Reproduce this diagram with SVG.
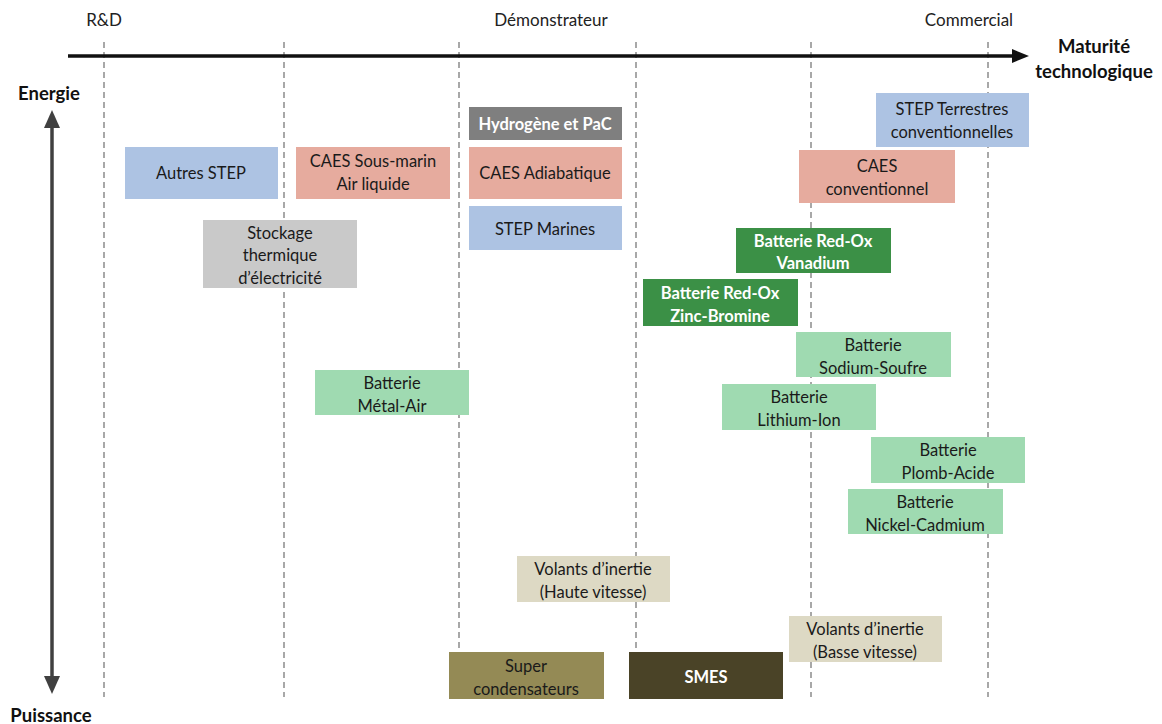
<svg xmlns="http://www.w3.org/2000/svg" width="1162" height="724" viewBox="0 0 1162 724">
<defs>
<style>
text{font-family:Lato,"Open Sans","Liberation Sans",sans-serif;font-size:16.5px;fill:#1a1a1a;text-anchor:middle}
.w{fill:#ffffff;font-weight:bold}
.ax{font-size:18.5px;font-weight:bold;fill:#111}
.ph{font-size:17px;fill:#222}
.dash{stroke:#8c8c8c;stroke-width:1.5;stroke-dasharray:6,4;fill:none}
.blue{fill:#adc3e3}
.sal{fill:#e6ab9e}
.grey{fill:#7f7f7f}
.lgrey{fill:#c9c9c9}
.dg{fill:#3b9046}
.lg{fill:#9fdab1}
.beige{fill:#ddd9c4}
.olive{fill:#948a55}
.dark{fill:#4a4327}
</style>
</defs>
<rect width="1162" height="724" fill="#ffffff"/>
<g id="grid">
<line class="dash" x1="104" y1="42" x2="104" y2="697"/>
<line class="dash" x1="284" y1="42" x2="284" y2="697"/>
<line class="dash" x1="459" y1="42" x2="459" y2="697"/>
<line class="dash" x1="636" y1="42" x2="636" y2="697"/>
<line class="dash" x1="811" y1="42" x2="811" y2="697"/>
<line class="dash" x1="988" y1="42" x2="988" y2="697"/>
</g>
<g id="axes">
<line x1="68" y1="56" x2="1014" y2="56" stroke="#111" stroke-width="3.5"/>
<path d="M1012,49 L1029,56 L1012,63 z" fill="#111"/>
<line x1="52" y1="126" x2="52" y2="678" stroke="#404040" stroke-width="3.5"/>
<path d="M44,128 L52,110 L60,128 z" fill="#404040"/>
<path d="M44,676 L52,694 L60,676 z" fill="#404040"/>
<text class="ph" x="104" y="26">R&amp;D</text>
<text class="ph" x="551" y="26">Démonstrateur</text>
<text class="ph" x="969" y="26">Commercial</text>
<text class="ax" x="1094" y="53">Maturité</text>
<text class="ax" x="1094" y="78">technologique</text>
<text class="ax" x="49" y="100">Energie</text>
<text class="ax" x="51" y="722">Puissance</text>
</g>
<g id="n-autres-step"><rect class="blue" x="125" y="147" width="153" height="52"/><text x="201" y="179">Autres STEP</text></g>
<g id="n-caes-sous-marin"><rect class="sal" x="296" y="147" width="154" height="52"/><text x="373" y="167">CAES Sous-marin</text><text x="373" y="190">Air liquide</text></g>
<g id="n-hydrogene"><rect class="grey" x="469" y="107" width="153" height="33"/><text class="w" x="545" y="130">Hydrogène et PaC</text></g>
<g id="n-caes-adiabatique"><rect class="sal" x="469" y="147" width="153" height="52"/><text x="545" y="179">CAES Adiabatique</text></g>
<g id="n-step-marines"><rect class="blue" x="469" y="206" width="153" height="44"/><text x="545" y="235">STEP Marines</text></g>
<g id="n-stockage-thermique"><rect class="lgrey" x="203" y="220" width="154" height="68"/><text x="280" y="239">Stockage</text><text x="280" y="261">thermique</text><text x="280" y="284">d’électricité</text></g>
<g id="n-step-terrestres"><rect class="blue" x="876" y="93" width="153" height="54"/><text x="952" y="115">STEP Terrestres</text><text x="952" y="138">conventionnelles</text></g>
<g id="n-caes-conv"><rect class="sal" x="799" y="150" width="156" height="53"/><text x="877" y="172">CAES</text><text x="877" y="195">conventionnel</text></g>
<g id="n-redox-vanadium"><rect class="dg" x="736" y="228" width="155" height="45"/><text class="w" x="813" y="247">Batterie Red-Ox</text><text class="w" x="813" y="269">Vanadium</text></g>
<g id="n-redox-zinc"><rect class="dg" x="643" y="279" width="155" height="47"/><text class="w" x="720" y="299">Batterie Red-Ox</text><text class="w" x="720" y="322">Zinc-Bromine</text></g>
<g id="n-sodium-soufre"><rect class="lg" x="796" y="332" width="155" height="45"/><text x="873" y="351">Batterie</text><text x="873" y="374">Sodium-Soufre</text></g>
<g id="n-metal-air"><rect class="lg" x="315" y="370" width="154" height="45"/><text x="392" y="389">Batterie</text><text x="392" y="412">Métal-Air</text></g>
<g id="n-lithium-ion"><rect class="lg" x="722" y="384" width="154" height="46"/><text x="799" y="403">Batterie</text><text x="799" y="426">Lithium-Ion</text></g>
<g id="n-plomb-acide"><rect class="lg" x="871" y="437" width="154" height="46"/><text x="948" y="456">Batterie</text><text x="948" y="479">Plomb-Acide</text></g>
<g id="n-nickel-cadmium"><rect class="lg" x="848" y="489" width="155" height="45"/><text x="925" y="508">Batterie</text><text x="925" y="531">Nickel-Cadmium</text></g>
<g id="n-volants-haute"><rect class="beige" x="517" y="556" width="153" height="46"/><text x="593" y="575">Volants d’inertie</text><text x="593" y="598">(Haute vitesse)</text></g>
<g id="n-volants-basse"><rect class="beige" x="789" y="616" width="153" height="46"/><text x="865" y="635">Volants d’inertie</text><text x="865" y="658">(Basse vitesse)</text></g>
<g id="n-super-condensateurs"><rect class="olive" x="449" y="652" width="155" height="47"/><text x="526" y="672">Super</text><text x="526" y="695">condensateurs</text></g>
<g id="n-smes"><rect class="dark" x="629" y="652" width="154" height="47"/><text class="w" x="706" y="683">SMES</text></g>
<g id="connectors"></g>
</svg>
